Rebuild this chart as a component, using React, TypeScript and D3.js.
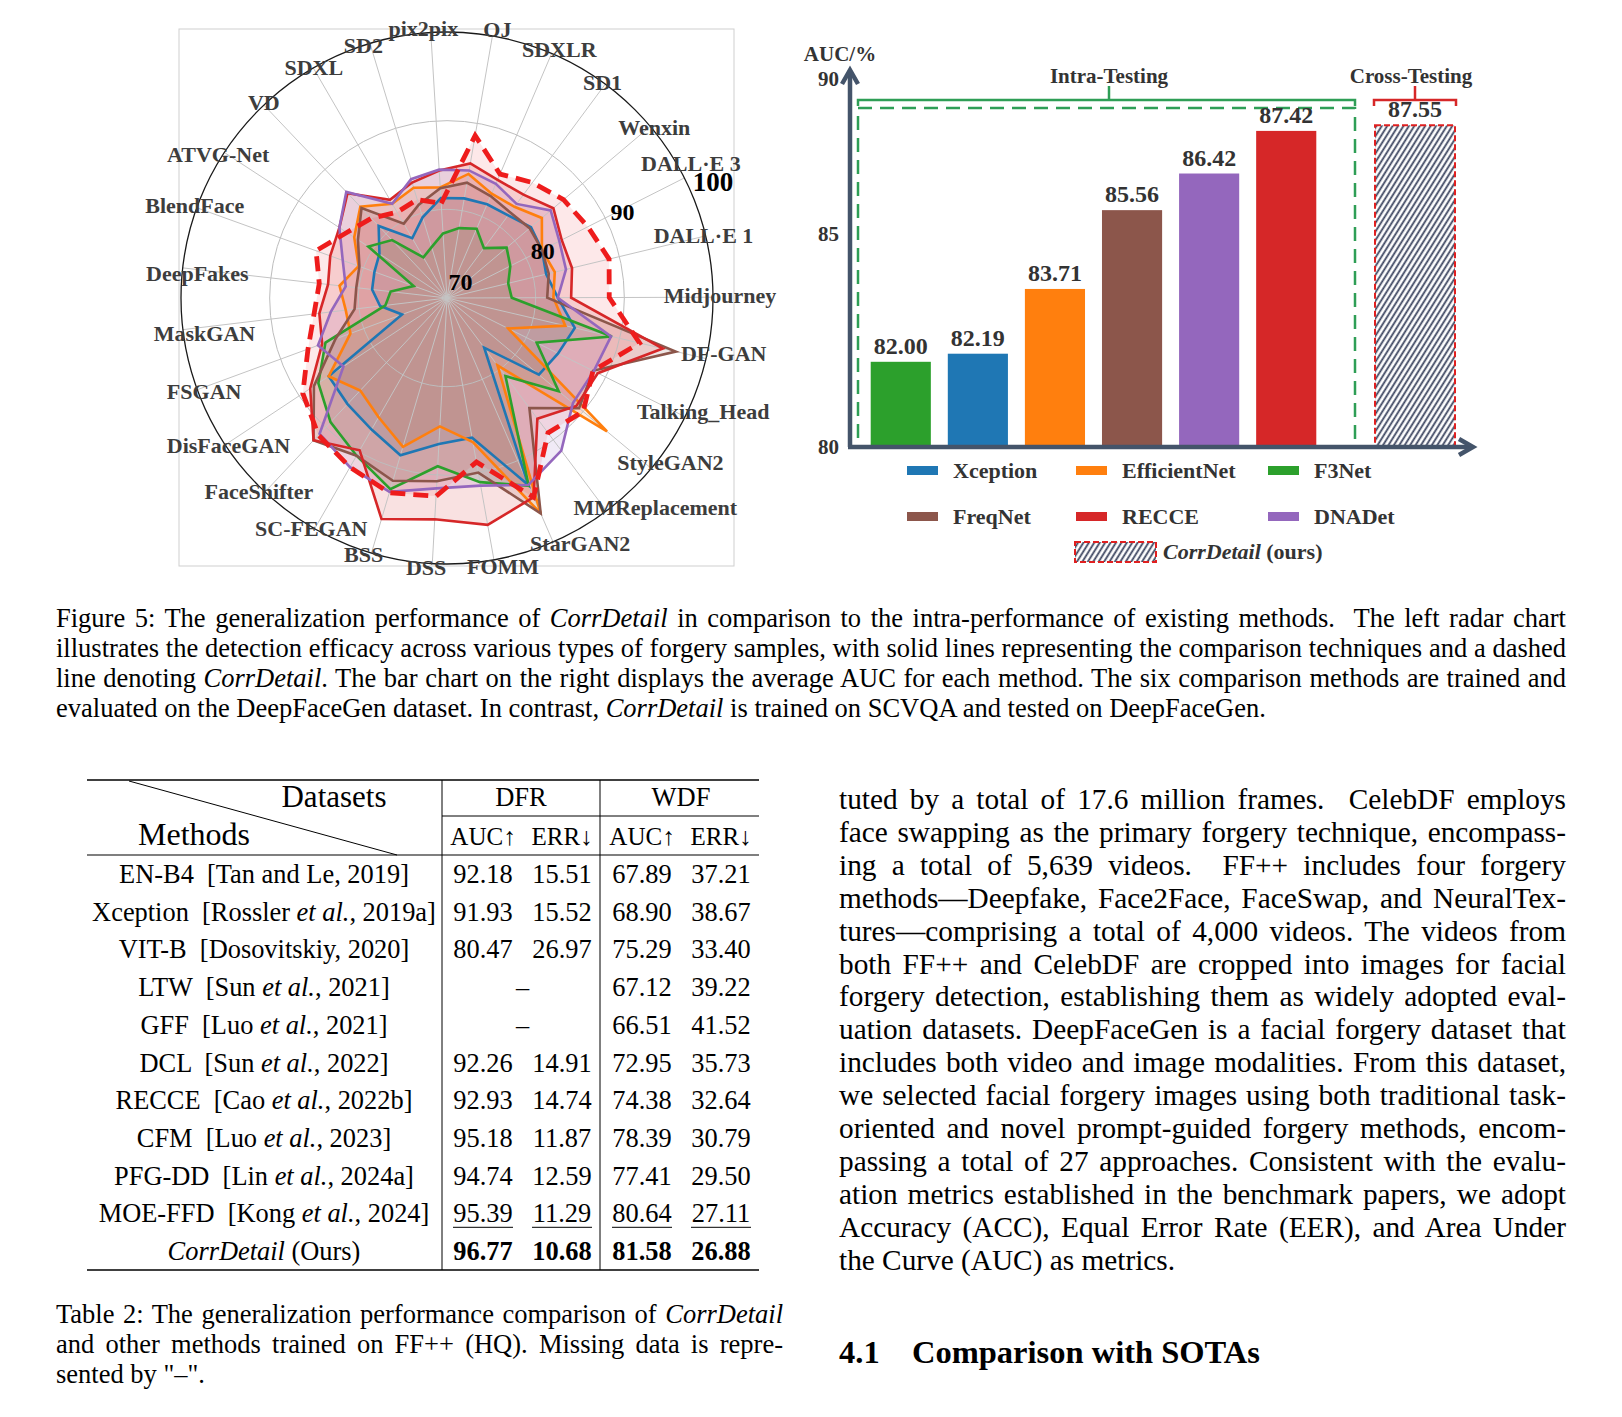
import React, { useLayoutEffect, useRef, useState } from "react";
import * as d3 from "d3";

const SERIF = "'Liberation Serif', 'Times New Roman', serif";

// ---------- radar data (AUC, %) ----------
const forgeryTypes = ["pix2pix", "OJ", "SDXLR", "SD1", "Wenxin", "DALL·E 3", "DALL·E 1", "Midjourney", "DF-GAN", "Talking_Head", "StyleGAN2", "MMReplacement", "StarGAN2", "FOMM", "DSS", "BSS", "SC-FEGAN", "FaceShifter", "DisFaceGAN", "FSGAN", "MaskGAN", "DeepFakes", "BlendFace", "ATVG-Net", "VD", "SDXL", "SD2"];
const xceptionAUC = [81.3, 81.4, 81.5, 81.6, 82.4, 82.0, 81.5, 82.5, 84.8, 84.0, 83.5, 77.0, 93.0, 86.0, 86.5, 88.5, 87.1, 86.4, 86.0, 75.4, 77.6, 78.5, 78.7, 79.1, 81.2, 77.8, 79.5];
const efficientNetAUC = [82.5, 84.2, 82.8, 82.8, 84.0, 82.0, 82.5, 82.0, 83.7, 77.7, 93.5, 79.5, 96.5, 86.5, 84.5, 87.5, 85.5, 84.3, 86.0, 81.6, 81.5, 82.2, 80.6, 82.5, 84.2, 82.3, 83.0];
const f3NetAUC = [77.3, 78.0, 78.5, 77.0, 78.8, 78.0, 77.1, 77.3, 89.1, 81.3, 86.4, 81.0, 93.1, 91.1, 89.0, 92.5, 90.5, 89.2, 87.4, 84.6, 77.0, 76.4, 74.0, 80.6, 79.0, 75.3, 76.0];
const freqNetAUC = [82.4, 83.2, 82.5, 82.0, 82.2, 82.0, 81.8, 81.3, 96.5, 88.4, 89.4, 85.5, 96.5, 90.0, 90.7, 91.5, 90.5, 92.0, 88.0, 83.4, 80.5, 80.3, 80.5, 82.0, 84.0, 79.7, 81.0];
const recceAUC = [84.4, 85.4, 84.5, 84.5, 85.7, 84.5, 84.5, 84.0, 95.0, 89.0, 89.0, 87.0, 94.5, 96.0, 95.0, 96.0, 89.8, 92.0, 88.5, 85.0, 84.5, 83.5, 84.0, 84.5, 86.3, 82.8, 83.6];
const dnaDetAUC = [84.5, 84.6, 84.0, 83.2, 85.3, 84.2, 83.8, 82.5, 89.0, 88.5, 88.5, 91.5, 93.0, 91.5, 91.5, 92.8, 92.0, 91.0, 84.0, 85.5, 83.2, 81.5, 82.5, 84.5, 86.5, 82.3, 84.0];
const corrDetailAUC = [80.7, 88.6, 85.2, 86.2, 87.2, 87.8, 88.8, 88.3, 92.3, 88.4, 90.0, 89.0, 94.5, 88.8, 92.4, 92.9, 92.0, 91.2, 89.5, 86.7, 85.1, 84.5, 85.7, 83.5, 82.4, 81.2, 81.6];
const radialTicks = [70, 80, 90, 100];

const radarSeries = [
  { name: "Xception", color: "#1f77b4", values: xceptionAUC },
  { name: "EfficientNet", color: "#ff7f0e", values: efficientNetAUC },
  { name: "F3Net", color: "#2ca02c", values: f3NetAUC },
  { name: "FreqNet", color: "#8c564b", values: freqNetAUC },
  { name: "RECCE", color: "#d62728", values: recceAUC },
  { name: "DNADet", color: "#9467bd", values: dnaDetAUC },
];

// ---------- bar data ----------
const barMethods = ["F3Net", "Xception", "EfficientNet", "FreqNet", "DNADet", "RECCE"];
const barAUC = [82.0, 82.19, 83.71, 85.56, 86.42, 87.42];
const crossMethod = "CorrDetail";
const crossAUC = 87.55;
const barTicks = [80, 85, 90];
const legendOrder = ["Xception", "EfficientNet", "F3Net", "FreqNet", "RECCE", "DNADet"];
const methodColors: Record<string, string> = {
  Xception: "#1f77b4", EfficientNet: "#ff7f0e", F3Net: "#2ca02c",
  FreqNet: "#8c564b", RECCE: "#d62728", DNADet: "#9467bd",
};

// ---------- table data ----------
const tableMethods = ["EN-B4", "Xception", "VIT-B", "LTW", "GFF", "DCL", "RECCE", "CFM", "PFG-DD", "MOE-FFD"];
const tableAuthors = ["Tan and Le", "Rossler", "Dosovitskiy", "Sun", "Luo", "Sun", "Cao", "Luo", "Lin", "Kong"];
const tableEtAl = [false, true, false, true, true, true, true, true, true, true];
const tableYears = ["2019", "2019a", "2020", "2021", "2021", "2022", "2022b", "2023", "2024a", "2024"];
const dfrAUC = [92.18, 91.93, 80.47, null, null, 92.26, 92.93, 95.18, 94.74, 95.39, 96.77];
const dfrERR = [15.51, 15.52, 26.97, null, null, 14.91, 14.74, 11.87, 12.59, 11.29, 10.68];
const wdfAUC = [67.89, 68.9, 75.29, 67.12, 66.51, 72.95, 74.38, 78.39, 77.41, 80.64, 81.58];
const wdfERR = [37.21, 38.67, 33.4, 39.22, 41.52, 35.73, 32.64, 30.79, 29.5, 27.11, 26.88];

const paragraphLines = [
  "tuted by a total of 17.6 million frames.  CelebDF employs",
  "face swapping as the primary forgery technique, encompass-",
  "ing a total of 5,639 videos.  FF++ includes four forgery",
  "methods—Deepfake, Face2Face, FaceSwap, and NeuralTex-",
  "tures—comprising a total of 4,000 videos. The videos from",
  "both FF++ and CelebDF are cropped into images for facial",
  "forgery detection, establishing them as widely adopted eval-",
  "uation datasets. DeepFaceGen is a facial forgery dataset that",
  "includes both video and image modalities. From this dataset,",
  "we selected facial forgery images using both traditional task-",
  "oriented and novel prompt-guided forgery methods, encom-",
  "passing a total of 27 approaches. Consistent with the evalu-",
  "ation metrics established in the benchmark papers, we adopt",
  "Accuracy (ACC), Equal Error Rate (EER), and Area Under",
  "the Curve (AUC) as metrics.",
];

// small hand nudges for the radar category labels (layout only)
const labelNudge = [[-3, 2], [8, 0], [9, 3], [-3, 6], [2, 8], [3, -8], [-7, 5], [1, 2], [11, -2], [11, -4], [12, -7], [42, -6], [21, -2], [4, 2], [-10, -2], [-10, -5], [-4, -7], [-5, -8], [6, -6], [11, -4], [27, -1], [21, 2], [5, -4], [1, 2], [7, -1], [7, 3], [-1, 7]];

// justified line: word spacing measured so the line fills `width`
function JText({ x, y, width, justify = true, children }: any) {
  const ref = useRef<SVGTextElement>(null);
  const [ws, setWs] = useState(0);
  useLayoutEffect(() => {
    const el = ref.current;
    if (!el || !justify) return;
    el.style.wordSpacing = "0px";
    const len = el.getComputedTextLength();
    const spaces = ((el.textContent || "").match(/ /g) || []).length;
    if (spaces > 0) setWs((width - len) / spaces);
    el.style.wordSpacing = "";
  }, [width, justify]);
  return (
    <text ref={ref} x={x} y={y} style={{ whiteSpace: "pre", wordSpacing: `${ws}px` }}>
      {children}
    </text>
  );
}

function Radar() {
  const cx = 447, cy = 298, R = 266, ROT = -3.5;
  const r = d3.scaleLinear().domain([70, 100]).range([0, R]);
  const step = 360 / forgeryTypes.length;
  const ang = (i: number) => ((i * step + ROT) * Math.PI) / 180;
  const line = d3.lineRadial<number>().angle((_, i) => ang(i)).radius((v) => r(v)).curve(d3.curveLinearClosed);
  return (
    <g>
      <rect x={179} y={29} width={555} height={537} fill="none" stroke="#cfcfcf" />
      <g transform={`translate(${cx},${cy})`}>
        {radarSeries.map((s) => (
          <path key={s.name + "f"} d={line(s.values) || ""} fill={s.color} fillOpacity={0.14} />
        ))}
        <path d={line(corrDetailAUC) || ""} fill="#e8192c" fillOpacity={0.1} />
        {[80, 90].map((v) => (
          <circle key={v} r={r(v)} fill="none" stroke="#bdbdbd" strokeWidth={1} />
        ))}
        {forgeryTypes.map((t, i) => {
          const [px, py] = d3.pointRadial(ang(i), R);
          return <line key={t} x1={0} y1={0} x2={px} y2={py} stroke="#c4c4c4" strokeWidth={1} />;
        })}
        {radarSeries.map((s) => (
          <path key={s.name} d={line(s.values) || ""} fill="none" stroke={s.color} strokeWidth={2.6} />
        ))}
        <path d={line(corrDetailAUC) || ""} fill="none" stroke="#ee1c1c" strokeWidth={4.8} strokeDasharray="15 8" />
        <circle r={r(100)} fill="none" stroke="#1a1a1a" strokeWidth={1.3} />
        {forgeryTypes.map((t, i) => {
          const [px, py] = d3.pointRadial(ang(i) - 0.015, R + 6);
          return (
            <text key={t} x={px + labelNudge[i][0]} y={py + labelNudge[i][1]} textAnchor="middle" dominantBaseline="central"
              fontFamily={SERIF} fontWeight="bold" fontSize={22} fill="#3d3d3d">{t}</text>
          );
        })}
        {radialTicks.map((v) => {
          const a = ((v === 70 ? 40 : v === 100 ? 66.5 : 64) * Math.PI) / 180;
          const [px, py] = d3.pointRadial(a, r(v) + (v === 100 ? 24 : v === 70 ? 21 : 18));
          return (
            <text key={v} x={px} y={py} textAnchor="middle" dominantBaseline="central"
              fontFamily={SERIF} fontWeight="bold" fontSize={v === 100 ? 27 : 24} fill="#000">{v}</text>
          );
        })}
      </g>
    </g>
  );
}

function Bars() {
  const x = d3.scaleBand().domain(barMethods).range([863, 1324]).paddingInner(0.22).paddingOuter(0.1);
  const xc = d3.scaleBand().domain([crossMethod]).range([1375, 1455]);
  const y = d3.scaleLinear().domain([80, 85]).range([447, 234]);
  const axisX = 850, axisTop = 70, axisRight = 1473, base = y(80);
  const axisColor = "#44546a";
  const legendCols = [907, 1076, 1268];
  const legendRows = [471, 517];
  return (
    <g fontFamily={SERIF} fontWeight="bold">
      <defs>
        <pattern id="hatch" patternUnits="userSpaceOnUse" width={4.6} height={4.6} patternTransform="rotate(32)">
          <rect width={4.6} height={4.6} fill="#fff" />
          <line x1={1.2} y1={0} x2={1.2} y2={4.6} stroke="#3c4560" strokeWidth={1.8} />
        </pattern>
      </defs>
      <text x={840} y={61} textAnchor="middle" fontSize={21} fill="#333">AUC/%</text>
      {/* intra-testing bracket */}
      <path d={`M858,106 V100 H1355 V106`} fill="none" stroke="#2e9e56" strokeWidth={2.5} />
      <line x1={1109} y1={100} x2={1109} y2={86} stroke="#2e9e56" strokeWidth={2.5} />
      <text x={1109} y={83} textAnchor="middle" fontSize={21} fill="#333">Intra-Testing</text>
      <rect x={858} y={108} width={497} height={base - 108} fill="none" stroke="#2e9e56" strokeWidth={2.5} strokeDasharray="14 8" />
      {/* cross-testing bracket */}
      <path d={`M1374,106 V100 H1456 V106`} fill="none" stroke="#d62728" strokeWidth={2.5} />
      <line x1={1415} y1={100} x2={1415} y2={86} stroke="#d62728" strokeWidth={2.5} />
      <text x={1411} y={83} textAnchor="middle" fontSize={21} fill="#333">Cross-Testing</text>

      {barMethods.map((m, i) => (
        <g key={m}>
          <rect x={x(m)} y={y(barAUC[i])} width={x.bandwidth()} height={base - y(barAUC[i])} fill={methodColors[m]} />
          <text x={(x(m) as number) + x.bandwidth() / 2} y={y(barAUC[i]) - 8} textAnchor="middle" fontSize={24} fill="#333">
            {barAUC[i].toFixed(2)}
          </text>
        </g>
      ))}
      <rect x={xc(crossMethod)} y={y(crossAUC)} width={xc.bandwidth()} height={base - y(crossAUC)} fill="url(#hatch)"
        stroke="#e02020" strokeWidth={2} strokeDasharray="6 3" />
      <text x={(xc(crossMethod) as number) + xc.bandwidth() / 2} y={y(crossAUC) - 8} textAnchor="middle" fontSize={24} fill="#333">
        {crossAUC.toFixed(2)}
      </text>

      {/* axes */}
      <line x1={axisX} y1={base} x2={axisX} y2={axisTop + 2} stroke={axisColor} strokeWidth={4.5} />
      <polyline points={`${axisX - 8},${axisTop + 14} ${axisX},${axisTop} ${axisX + 8},${axisTop + 14}`} fill="none" stroke={axisColor} strokeWidth={4.5} />
      <line x1={axisX - 2} y1={base} x2={axisRight - 2} y2={base} stroke={axisColor} strokeWidth={4.5} />
      <polyline points={`${axisRight - 14},${base - 8} ${axisRight},${base} ${axisRight - 14},${base + 8}`} fill="none" stroke={axisColor} strokeWidth={4.5} />
      {barTicks.map((v) => (
        <text key={v} x={839} y={(v === 90 ? axisTop + 9 : y(v)) + 7} textAnchor="end" fontSize={21} fill="#333">{v}</text>
      ))}

      {/* legend */}
      {legendOrder.map((m, i) => {
        const lx = legendCols[i % 3], ly = legendRows[Math.floor(i / 3)];
        return (
          <g key={m}>
            <rect x={lx} y={ly - 5} width={31} height={9} fill={methodColors[m]} />
            <text x={lx + 46} y={ly + 7} fontSize={22} fill="#333">{m}</text>
          </g>
        );
      })}
      <rect x={1075} y={542} width={81} height={20} fill="url(#hatch)" stroke="#e02020" strokeWidth={2} strokeDasharray="6 3" />
      <text x={1163} y={559} fontSize={22} fill="#333">
        <tspan fontStyle="italic">CorrDetail</tspan> (ours)
      </text>
    </g>
  );
}

function FigureCaption() {
  const x0 = 56, width = 1510;
  const base = [627, 657, 687, 717];
  return (
    <g fontFamily={SERIF} fontSize={26.5} fill="#000">
      <JText x={x0} y={base[0]} width={width}>
        Figure 5: The generalization performance of <tspan fontStyle="italic">CorrDetail</tspan> in comparison to the intra-performance of existing methods.  The left radar chart
      </JText>
      <JText x={x0} y={base[1]} width={width}>
        illustrates the detection efficacy across various types of forgery samples, with solid lines representing the comparison techniques and a dashed
      </JText>
      <JText x={x0} y={base[2]} width={width}>
        line denoting <tspan fontStyle="italic">CorrDetail</tspan>. The bar chart on the right displays the average AUC for each method. The six comparison methods are trained and
      </JText>
      <JText x={x0} y={base[3]} width={width} justify={false}>
        evaluated on the DeepFaceGen dataset. In contrast, <tspan fontStyle="italic">CorrDetail</tspan> is trained on SCVQA and tested on DeepFaceGen.
      </JText>
    </g>
  );
}

function Table() {
  const left = 87, right = 759, v1 = 442, v2 = 600;
  const top = 780, sub = 816, mid = 855, bottom = 1270;
  const numX = [483, 562, 642, 721];
  const row0 = 874, rowStep = 37.7;
  const fs = 26.4;
  const cols = [dfrAUC, dfrERR, wdfAUC, wdfERR];
  const nRows = dfrAUC.length;
  return (
    <g fontFamily={SERIF} fill="#000">
      <line x1={left} x2={right} y1={top} y2={top} stroke="#000" strokeWidth={1.6} />
      <line x1={v1} x2={right} y1={sub} y2={sub} stroke="#000" strokeWidth={1} />
      <line x1={left} x2={right} y1={mid} y2={mid} stroke="#000" strokeWidth={1.2} />
      <line x1={left} x2={right} y1={bottom} y2={bottom} stroke="#000" strokeWidth={1.6} />
      <line x1={v1} x2={v1} y1={top} y2={bottom} stroke="#000" strokeWidth={1} />
      <line x1={v2} x2={v2} y1={top} y2={bottom} stroke="#000" strokeWidth={1} />
      <line x1={129} y1={781} x2={397} y2={855} stroke="#000" strokeWidth={1} />
      <text x={334} y={807} textAnchor="middle" fontSize={31}>Datasets</text>
      <text x={194} y={845} textAnchor="middle" fontSize={32}>Methods</text>
      <text x={521} y={806} textAnchor="middle" fontSize={26.5}>DFR</text>
      <text x={681} y={806} textAnchor="middle" fontSize={26.5}>WDF</text>
      {["AUC↑", "ERR↓", "AUC↑", "ERR↓"].map((h, j) => (
        <text key={j} x={numX[j]} y={845} textAnchor="middle" fontSize={25}>{h}</text>
      ))}
      {d3.range(nRows).map((i) => {
        const yb = row0 + i * rowStep + 9;
        const last = i === nRows - 1;
        const underline = i === nRows - 2;
        return (
          <g key={i}>
            {last ? (
              <text x={264} y={yb} textAnchor="middle" fontSize={fs}>
                <tspan fontStyle="italic">CorrDetail</tspan> (Ours)
              </text>
            ) : (
              <text x={264} y={yb} textAnchor="middle" fontSize={fs} style={{ whiteSpace: "pre" }}>
                {tableMethods[i] + "  [" + tableAuthors[i]}
                {tableEtAl[i] ? <tspan fontStyle="italic"> et al.</tspan> : null}
                {", " + tableYears[i] + "]"}
              </text>
            )}
            {dfrAUC[i] === null ? (
              <text x={(numX[0] + numX[1]) / 2} y={yb} textAnchor="middle" fontSize={fs}>–</text>
            ) : null}
            {cols.map((c, j) =>
              c[i] === null ? null : (
                <g key={j}>
                  <text x={numX[j]} y={yb} textAnchor="middle" fontSize={fs} fontWeight={last ? "bold" : "normal"}>
                    {(c[i] as number).toFixed(2)}
                  </text>
                  {underline ? <line x1={numX[j] - 30} x2={numX[j] + 30} y1={yb + 5} y2={yb + 5} stroke="#000" strokeWidth={1} /> : null}
                </g>
              )
            )}
          </g>
        );
      })}
    </g>
  );
}

function TableCaption() {
  const x0 = 56, width = 727;
  return (
    <g fontFamily={SERIF} fontSize={26.5} fill="#000">
      <JText x={x0} y={1323} width={width}>
        Table 2: The generalization performance comparison of <tspan fontStyle="italic">CorrDetail</tspan>
      </JText>
      <JText x={x0} y={1353} width={width}>
        and other methods trained on FF++ (HQ). Missing data is repre-
      </JText>
      <JText x={x0} y={1383} width={width} justify={false}>sented by "–".</JText>
    </g>
  );
}

function Paragraph() {
  const x0 = 839, width = 727;
  return (
    <g fontFamily={SERIF} fontSize={29.3} fill="#000">
      {paragraphLines.map((l, i) => (
        <JText key={i} x={x0} y={809 + i * 32.9} width={width} justify={i < paragraphLines.length - 1}>
          {l}
        </JText>
      ))}
      <text x={x0} y={1363} fontSize={32.5} fontWeight="bold">4.1</text>
      <text x={912} y={1363} fontSize={32.5} fontWeight="bold">Comparison with SOTAs</text>
    </g>
  );
}

export default function App() {
  return (
    <svg width={1622} height={1417} viewBox="0 0 1622 1417" style={{ position: "absolute", left: 0, top: 0, background: "#fff" }}>
      <rect width={1622} height={1417} fill="#fff" />
      <Radar />
      <Bars />
      <FigureCaption />
      <Table />
      <TableCaption />
      <Paragraph />
    </svg>
  );
}
